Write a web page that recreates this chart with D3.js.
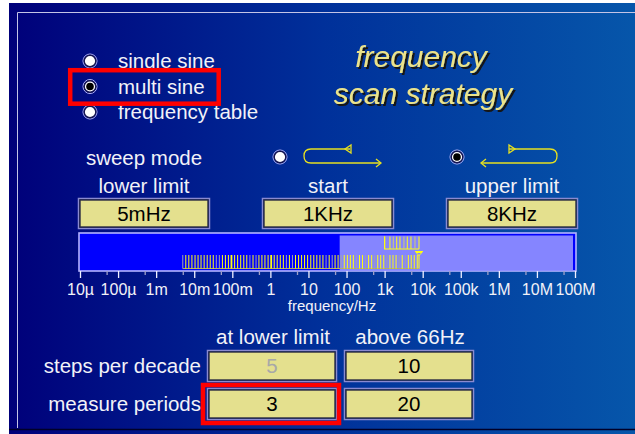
<!DOCTYPE html>
<html>
<head>
<meta charset="utf-8">
<script src="https://cdn.jsdelivr.net/npm/d3@7"></script>
<style>
  body { margin: 0; background: #fff; }
  svg { display: block; }
  text { font-family: "Liberation Sans", Arial, sans-serif; }
</style>
</head>
<body>
<svg id="panel" width="635" height="434"></svg>
<script>
const modes = ["single sine", "multi sine", "frequency table"];
const selectedMode = "multi sine";

const limitLabels = ["lower limit", "start", "upper limit"];
const limitValues = ["5mHz", "1KHz", "8KHz"];

const sweepModes = ["up", "down"];
const selectedSweep = "down";

const decadeTicks = [1e-5, 1e-4, 1e-3, 1e-2, 1e-1, 1, 10, 100, 1e3, 1e4, 1e5, 1e6, 1e7, 1e8];
const decadeLabels = ["10µ", "100µ", "1m", "10m", "100m", "1", "10", "100", "1k", "10k", "100k", "1M", "10M", "100M"];
const halfTicks = [5e-5, 5e-4, 5e-3, 5e-2, 0.5, 5, 50, 500, 5e3, 5e4, 5e5, 5e6, 5e7];

const splitFreq = 66; // Hz, lower-limit settings apply below this

// lines of the scan (Hz)
const scanLines = [
  0.005, 0.006, 0.0072, 0.0087, 0.0105, 0.0126, 0.0151, 0.0182, 0.0219, 0.0263,
  0.0316, 0.038, 0.0457, 0.055, 0.066, 0.079, 0.095, 0.115, 0.138, 0.166,
  0.2, 0.24, 0.29, 0.35, 0.42, 0.5, 0.6, 0.72, 0.87, 1.05,
  1.26, 1.51, 1.82, 2.19, 2.63, 3.16, 3.8, 4.57, 5.5, 6.6,
  7.9, 9.5, 11.5, 13.8, 16.6, 20, 24, 29, 35, 42,
  50, 60, 72, 87, 105, 126, 151, 182, 219, 263,
  316, 380, 457, 550, 660, 790, 950, 1150, 1380, 1660,
  2000, 2400, 2900, 3500, 4200, 5000, 6000, 7200, 8000
];
const grayLines = [0.005, 0.038, 0.0457, 0.29, 0.42, 2.63, 3.8, 29, 42, 72, 182, 316, 550, 1150, 2400, 3500];
const brightLines = [0.095, 1.05];
const startLines = [1000, 1380, 1690, 2080, 2530, 3220, 3940, 4920, 6270, 8000];

const tableCols = ["at lower limit", "above 66Hz"];
const tableRows = ["steps per decade", "measure periods"];
const tableValues = [["5", "10"], ["3", "20"]];
const disabledValues = [[true, false], [false, false]];
const highlightCell = [1, 0];

const svg = d3.select("#panel");
const W = 635, H = 434;
const textColor = "#f2f2f8";
const boxFill = "#e4e08e";
const yellow = "#ffff10";
const labelSize = 20.5;

// background + gradient
const defs = svg.append("defs");
const grad = defs.append("linearGradient").attr("id", "bg").attr("x1", 0).attr("x2", 1).attr("y1", 0).attr("y2", 0);
grad.append("stop").attr("offset", 0).attr("stop-color", "#00007a");
grad.append("stop").attr("offset", 0.5).attr("stop-color", "#00309a");
grad.append("stop").attr("offset", 1).attr("stop-color", "#0656aa");

const shadow = defs.append("filter").attr("id", "shadow").attr("x", "-10%").attr("y", "-30%").attr("width", "130%").attr("height", "170%");
shadow.append("feDropShadow").attr("dx", 2).attr("dy", 2).attr("stdDeviation", 0.4)
  .attr("flood-color", "#141414").attr("flood-opacity", 1);

svg.append("rect").attr("x", 9).attr("y", 3).attr("width", W - 9).attr("height", H - 3).attr("fill", "url(#bg)");
svg.append("path").attr("d", `M17.5,428 V12.5 H${W}`).attr("fill", "none").attr("stroke", "#c4c4e6").attr("stroke-width", 1);
svg.append("line").attr("x1", 9).attr("x2", W).attr("y1", 429.5).attr("y2", 429.5).attr("stroke", "#000028").attr("stroke-width", 1.5);

// radio helper
function radio(g, cx, cy, on) {
  g.append("circle").attr("cx", cx).attr("cy", cy).attr("r", 7).attr("fill", "none").attr("stroke", "#b8b8ff").attr("stroke-width", 1);
  g.append("circle").attr("cx", cx).attr("cy", cy).attr("r", 5.8).attr("fill", "#fff").attr("stroke", "#141450").attr("stroke-width", 1.4);
  if (on) g.append("circle").attr("cx", cx).attr("cy", cy).attr("r", 3.8).attr("fill", "#000");
}

// signal mode radios
const modeY = d3.scalePoint().domain(modes).range([61, 112]);
const modeG = svg.append("g");
modes.forEach(m => {
  radio(modeG, 90, modeY(m), m === selectedMode);
  modeG.append("text").attr("x", 118).attr("y", modeY(m)).attr("dy", "0.35em")
    .attr("font-size", labelSize).attr("fill", textColor).text(m);
});
svg.append("rect").attr("x", 70.2).attr("y", 70.2).attr("width", 148.5).attr("height", 33.5)
  .attr("fill", "none").attr("stroke", "#ff0000").attr("stroke-width", 4.5);

// title
[["frequency", 421, 67], ["scan strategy", 423, 104]].forEach(([t, x, y]) => {
  svg.append("text").attr("x", x).attr("y", y).attr("text-anchor", "middle")
    .attr("font-size", 30).attr("font-style", "italic").attr("fill", "#ebe38c")
    .attr("filter", "url(#shadow)").text(t);
});

// sweep mode row
svg.append("text").attr("x", 144).attr("y", 158).attr("dy", "0.35em").attr("text-anchor", "middle")
  .attr("font-size", labelSize).attr("fill", textColor).text("sweep mode");

const sweepX = { up: 280, down: 457 };
sweepModes.forEach(s => radio(svg.append("g"), sweepX[s], 157, s === selectedSweep));

function sweepIcon(dir) {
  const g = svg.append("g").attr("fill", "none").attr("stroke", "#e6e020").attr("stroke-width", 1.3);
  const yt = 149, yb = 163;
  if (dir === "up") {
    g.append("path").attr("d", `M350,${yt} H311 Q304,${yt} 304,${(yt + yb) / 2} Q304,${yb} 311,${yb} H381`);
    g.append("path").attr("d", `M376,${yb - 4} L381,${yb} L376,${yb + 4}`);
    g.append("path").attr("d", `M351,${yt - 4} V${yt + 4} L345,${yt} Z`);
  } else {
    g.append("path").attr("d", `M509,${yt} H550 Q557,${yt} 557,${(yt + yb) / 2} Q557,${yb} 550,${yb} H481`);
    g.append("path").attr("d", `M486,${yb - 4} L481,${yb} L486,${yb + 4}`);
    g.append("path").attr("d", `M509,${yt - 4} V${yt + 4} L515,${yt} Z`);
  }
}
sweepIcon("up");
sweepIcon("down");

// value box helper
function valueBox(x, y, w, h, label, disabled) {
  svg.append("rect").attr("x", x - 1.5).attr("y", y - 1.5).attr("width", w + 3).attr("height", h + 3)
    .attr("fill", "none").attr("stroke", "#8a8ad0").attr("stroke-width", 1.5);
  svg.append("rect").attr("x", x).attr("y", y).attr("width", w).attr("height", h)
    .attr("fill", boxFill).attr("stroke", "#2a2a40").attr("stroke-width", 1.4);
  svg.append("text").attr("x", x + w / 2).attr("y", y + h / 2).attr("dy", "0.36em").attr("text-anchor", "middle")
    .attr("font-size", labelSize).attr("fill", disabled ? "#a8a8a8" : "#000").text(label);
}

// limits
const limitX = [80, 264, 448];
limitLabels.forEach((l, i) => {
  svg.append("text").attr("x", limitX[i] + 64).attr("y", 186).attr("dy", "0.35em").attr("text-anchor", "middle")
    .attr("font-size", labelSize).attr("fill", textColor).text(l);
  valueBox(limitX[i], 200, 128, 27, limitValues[i], false);
});

// frequency bar
const x = d3.scaleLog().domain([1e-5, 1e8]).range([80, 575]);
const barTop = 233, barBot = 271;

svg.append("rect").attr("x", 79).attr("y", barTop).attr("width", 497).attr("height", barBot - barTop)
  .attr("fill", "#0000ff").attr("stroke", "#b4b4ff").attr("stroke-width", 1.6);
svg.append("rect").attr("x", x(splitFreq)).attr("y", barTop + 2.5).attr("width", 573 - x(splitFreq)).attr("height", barBot - barTop - 3.5)
  .attr("fill", "#8585ff");

// lower scan row
const lowTop = 255, lowBot = 268.5;
svg.append("path").attr("d", `M${x(scanLines[0])},${lowBot} H${x(scanLines[scanLines.length - 1])}`)
  .attr("stroke", "#b0b060").attr("stroke-width", 1.2);
svg.append("g").selectAll("line").data(scanLines).join("line")
  .attr("x1", d => x(d)).attr("x2", d => x(d))
  .attr("y1", lowTop).attr("y2", lowBot)
  .attr("stroke", d => grayLines.includes(d) ? "#a4a4a4" : yellow)
  .attr("stroke-width", d => brightLines.includes(d) ? 1.8 : 1);

// start row
const upTop = 236.5, upBot = 249;
svg.append("path").attr("d", `M${x(startLines[0])},${upTop} V${upBot} H${x(startLines[startLines.length - 1])}`)
  .attr("fill", "none").attr("stroke", yellow).attr("stroke-width", 1.2);
svg.append("g").selectAll("line").data(startLines).join("line")
  .attr("x1", d => x(d)).attr("x2", d => x(d))
  .attr("y1", upTop).attr("y2", upBot)
  .attr("stroke", (d, i) => i % 3 === 2 ? "#d0d070" : yellow).attr("stroke-width", 1);

// start marker at the upper limit
const mx = x(startLines[startLines.length - 1]);
svg.append("path").attr("d", `M${mx - 4},251.5 H${mx + 4} M${mx - 3},252.5 L${mx},255.5 L${mx + 3},252.5 Z`)
  .attr("fill", "none").attr("stroke", yellow).attr("stroke-width", 1);

// axis
const axis = svg.append("g").attr("transform", `translate(0,${barBot})`)
  .call(d3.axisBottom(x).tickValues(decadeTicks).tickFormat((d, i) => decadeLabels[i]).tickSize(7).tickPadding(6));
axis.select(".domain").remove();
axis.selectAll(".tick line").attr("stroke", "#f0f0ff").attr("stroke-width", 1.3);
axis.selectAll(".tick text").attr("fill", textColor).attr("font-size", 16)
  .attr("font-family", "'Liberation Sans', Arial, sans-serif");

const minor = svg.append("g").attr("transform", `translate(0,${barBot})`)
  .call(d3.axisBottom(x).tickValues(halfTicks).tickFormat("").tickSize(4));
minor.select(".domain").remove();
minor.selectAll(".tick line").attr("stroke", "#a0a0c8").attr("stroke-width", 1.3);

svg.append("text").attr("x", 332).attr("y", 311).attr("text-anchor", "middle")
  .attr("font-size", 15).attr("fill", textColor).text("frequency/Hz");

// table
const colX = [209, 346];
const rowY = [352, 390];
tableCols.forEach((c, j) => {
  svg.append("text").attr("x", colX[j] + 64).attr("y", 337).attr("dy", "0.35em").attr("text-anchor", "middle")
    .attr("font-size", labelSize).attr("fill", textColor).text(c);
});
tableRows.forEach((r, i) => {
  svg.append("text").attr("x", 201).attr("y", rowY[i] + 14).attr("dy", "0.35em").attr("text-anchor", "end")
    .attr("font-size", labelSize).attr("fill", textColor).text(r);
  tableValues[i].forEach((v, j) => valueBox(colX[j], rowY[i], 126, 28, v, disabledValues[i][j]));
});
svg.append("rect")
  .attr("x", colX[highlightCell[1]] - 6).attr("y", rowY[highlightCell[0]] - 5)
  .attr("width", 136).attr("height", 38)
  .attr("fill", "none").attr("stroke", "#ff0000").attr("stroke-width", 4.5);
</script>
</body>
</html>
